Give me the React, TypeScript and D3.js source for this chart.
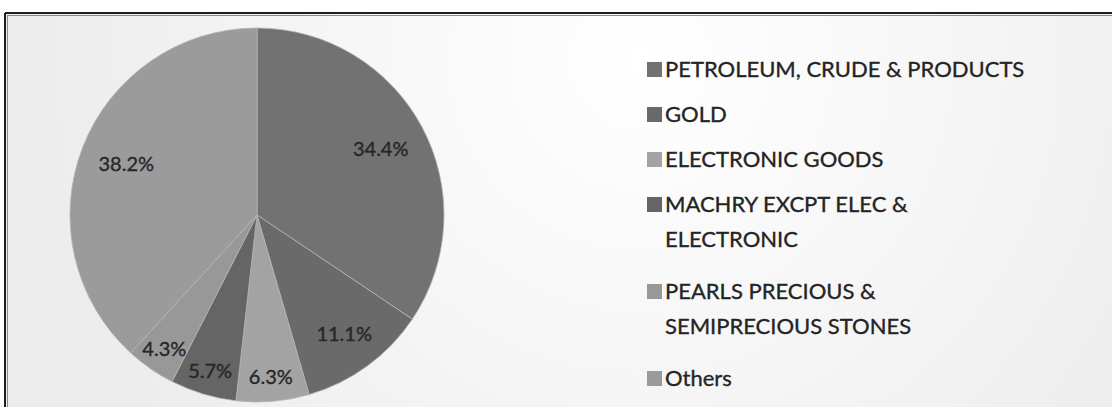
import React from "react";
import * as d3 from "d3";

const categories = [
  "PETROLEUM, CRUDE & PRODUCTS",
  "GOLD",
  "ELECTRONIC GOODS",
  "MACHRY EXCPT ELEC & ELECTRONIC",
  "PEARLS PRECIOUS & SEMIPRECIOUS STONES",
  "Others",
];
const legendLines: string[][] = [
  ["PETROLEUM, CRUDE & PRODUCTS"],
  ["GOLD"],
  ["ELECTRONIC GOODS"],
  ["MACHRY EXCPT ELEC &", "ELECTRONIC"],
  ["PEARLS PRECIOUS &", "SEMIPRECIOUS STONES"],
  ["Others"],
];
const values = [34.4, 11.1, 6.3, 5.7, 4.3, 38.2];
const valueLabels = ["34.4%", "11.1%", "6.3%", "5.7%", "4.3%", "38.2%"];
const sliceColors = ["#727272", "#6a6a6a", "#a3a3a3", "#656565", "#989898", "#9b9b9b"];

const W = 1112;
const H = 407;
const FONT = "Lato, 'Open Sans', sans-serif";

export default function App() {
  const cx = 257;
  const cy = 215;
  const r = 187;
  const pie = d3
    .pie<number>()
    .sort(null)
    .value((d) => d)
    .startAngle(0)
    .endAngle(2 * Math.PI);
  const arcs = pie(values);
  const arc = d3.arc<d3.PieArcDatum<number>>().innerRadius(0).outerRadius(r);

  const labelPos = (a: d3.PieArcDatum<number>) => {
    const f = a.value > 30 ? 0.75 : a.value > 10 ? 0.79 : 0.87;
    const lr = r * f;
    return d3.arc<d3.PieArcDatum<number>>().innerRadius(lr).outerRadius(lr).centroid(a);
  };

  const lx = 647;
  const sw = 15;
  const lineH = 35;
  let yb = 77;
  const legendItems = legendLines.map((lines, i) => {
    const item = { lines, y: yb, i };
    yb += lineH * (lines.length - 1) + (lines.length > 1 ? 52 : 45);
    return item;
  });

  return (
    <svg
      width={W}
      height={H}
      viewBox={`0 0 ${W} ${H}`}
      style={{ position: "absolute", left: 0, top: 0, display: "block" }}
    >
      <defs>
        <radialGradient id="bg" gradientUnits="userSpaceOnUse" cx={640} cy={60} r={620}>
          <stop offset="0" stopColor="#ffffff" />
          <stop offset="0.5" stopColor="#f6f6f6" />
          <stop offset="1" stopColor="#ececec" />
        </radialGradient>
      </defs>
      <rect x={0} y={0} width={W} height={H} fill="#ffffff" />
      <rect x={5} y={13} width={W + 20} height={H + 20} fill="url(#bg)" />
      <line x1={5} y1={13} x2={W} y2={13} stroke="#1e1e1e" strokeWidth={2} />
      <line x1={5} y1={13} x2={5} y2={H} stroke="#1e1e1e" strokeWidth={2} />
      <line x1={7} y1={15.5} x2={W} y2={15.5} stroke="#8a8a8a" strokeWidth={1} />
      <line x1={7.5} y1={15} x2={7.5} y2={H} stroke="#8a8a8a" strokeWidth={1} />

      <g transform={`translate(${cx},${cy})`}>
        {arcs.map((a, i) => (
          <path key={i} d={arc(a) || ""} fill={sliceColors[i]} stroke="#b4b4b4" strokeWidth={0.8} />
        ))}
        {arcs.map((a, i) => {
          const [x, y] = labelPos(a);
          return (
            <text
              key={"l" + i}
              x={x}
              y={y}
              dy="0.35em"
              textAnchor="middle"
              fontFamily={FONT}
              fontSize={20}
              fill="#262626"
              stroke="#262626"
              strokeWidth={0.35}
            >
              {valueLabels[i]}
            </text>
          );
        })}
      </g>

      {legendItems.map((it) => (
        <g key={it.i}>
          <rect x={lx} y={it.y - sw} width={sw} height={sw} fill={sliceColors[it.i]} />
          {it.lines.map((ln, j) => (
            <text
              key={j}
              x={lx + sw + 3}
              y={it.y + j * lineH}
              fontFamily={FONT}
              fontSize={22}
              fill="#242424"
              stroke="#242424"
              strokeWidth={0.35}
            >
              {ln}
            </text>
          ))}
        </g>
      ))}
    </svg>
  );
}
